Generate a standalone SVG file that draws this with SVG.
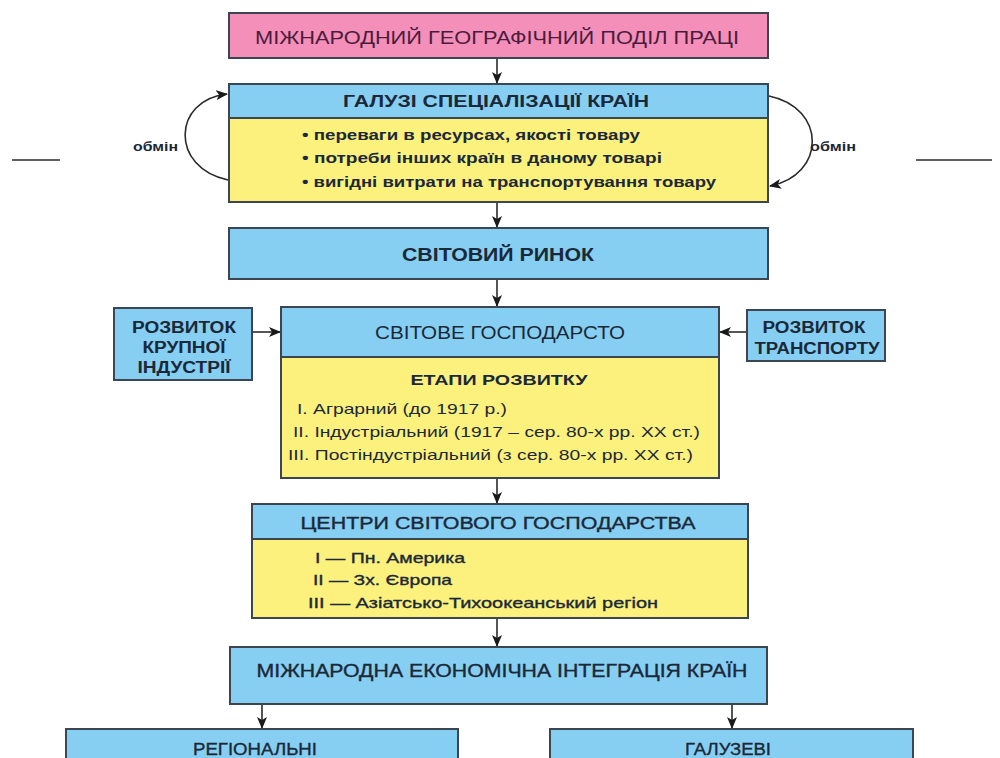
<svg xmlns="http://www.w3.org/2000/svg" width="1000" height="758" viewBox="0 0 1000 758">
<defs>
<marker id="ah" viewBox="0 0 12 10" refX="11" refY="5" markerWidth="12" markerHeight="10" markerUnits="userSpaceOnUse" orient="auto">
<path d="M0,0 L12,5 L0,10 L3,5 Z" fill="#1a1a1a"/>
</marker>
<style>
.box{stroke:#3b4650;stroke-width:2}
.pink{fill:#f48fba}
.blue{fill:#86cff2}
.yel{fill:#fbf17c}
.t{font-family:"Liberation Sans",Arial,sans-serif;fill:#1b2838}
.c{text-anchor:middle}
.b{font-weight:bold}
.m{stroke:#1b2838;stroke-width:0.35}
.ln{fill:none;stroke:#2a2a2a;stroke-width:1.6}
</style>
</defs>
<rect width="1000" height="758" fill="#ffffff"/>

<g id="connectors">
<line class="ln" x1="497" y1="59" x2="497" y2="83" marker-end="url(#ah)"/>
<line class="ln" x1="497" y1="203" x2="497" y2="227" marker-end="url(#ah)"/>
<line class="ln" x1="497" y1="280" x2="497" y2="306" marker-end="url(#ah)"/>
<line class="ln" x1="497" y1="478" x2="497" y2="503" marker-end="url(#ah)"/>
<line class="ln" x1="497" y1="619" x2="497" y2="646" marker-end="url(#ah)"/>
<line class="ln" x1="262" y1="705" x2="262" y2="728" marker-end="url(#ah)"/>
<line class="ln" x1="732" y1="705" x2="732" y2="728" marker-end="url(#ah)"/>
<line class="ln" x1="252" y1="332" x2="280" y2="332" marker-end="url(#ah)"/>
<line class="ln" x1="747" y1="332" x2="720" y2="332" marker-end="url(#ah)"/>
<path class="ln" d="M228,180 C170,168 172,100 227,94" marker-end="url(#ah)"/>
<path class="ln" d="M769,96 C827,108 826,175 770,186" marker-end="url(#ah)"/>
<line x1="12" y1="160" x2="60" y2="160" stroke="#2a2a2a" stroke-width="1.6"/>
<line x1="916" y1="160" x2="992" y2="160" stroke="#2a2a2a" stroke-width="1.6"/>
</g>

<g id="n-podil">
<rect class="box pink" x="229" y="13" width="539" height="45"/>
<text class="t c" x="497" y="44" font-size="19" style="fill:#4a1c3c" textLength="484" lengthAdjust="spacingAndGlyphs">МІЖНАРОДНИЙ ГЕОГРАФІЧНИЙ ПОДІЛ ПРАЦІ</text>
</g>

<g id="n-galuzi">
<rect class="box blue" x="229" y="84" width="539" height="34"/>
<rect class="box yel" x="229" y="118" width="539" height="84"/>
<text class="t c b" x="496" y="107" font-size="17" textLength="306" lengthAdjust="spacingAndGlyphs">ГАЛУЗІ СПЕЦІАЛІЗАЦІЇ КРАЇН</text>
<text class="t b" x="302" y="140" font-size="15" textLength="338" lengthAdjust="spacingAndGlyphs">• переваги в ресурсах, якості товару</text>
<text class="t b" x="302" y="163" font-size="15" textLength="360" lengthAdjust="spacingAndGlyphs">• потреби інших країн в даному товарі</text>
<text class="t b" x="302" y="187" font-size="15" textLength="414" lengthAdjust="spacingAndGlyphs">• вигідні витрати на транспортування товару</text>
</g>

<g id="lbl-obmin">
<text class="t b" x="133" y="151" font-size="13" textLength="45" lengthAdjust="spacingAndGlyphs">обмін</text>
<text class="t b" x="810" y="151" font-size="13" textLength="46" lengthAdjust="spacingAndGlyphs">обмін</text>
</g>

<g id="n-rynok">
<rect class="box blue" x="229" y="228" width="539" height="51"/>
<text class="t c b" x="498" y="261" font-size="18" textLength="192" lengthAdjust="spacingAndGlyphs">СВІТОВИЙ РИНОК</text>
</g>

<g id="n-industry">
<rect class="box blue" x="114" y="308" width="138" height="72"/>
<text class="t c b" x="184" y="333" font-size="16" textLength="104" lengthAdjust="spacingAndGlyphs">РОЗВИТОК</text>
<text class="t c b" x="184" y="353" font-size="16" textLength="83" lengthAdjust="spacingAndGlyphs">КРУПНОЇ</text>
<text class="t c b" x="184" y="373" font-size="16" textLength="93" lengthAdjust="spacingAndGlyphs">ІНДУСТРІЇ</text>
</g>

<g id="n-transport">
<rect class="box blue" x="747" y="310" width="138" height="51"/>
<text class="t c b" x="814" y="333" font-size="16" textLength="103" lengthAdjust="spacingAndGlyphs">РОЗВИТОК</text>
<text class="t c b" x="817" y="354" font-size="16" textLength="125" lengthAdjust="spacingAndGlyphs">ТРАНСПОРТУ</text>
</g>

<g id="n-gospodarstvo">
<rect class="box blue" x="281" y="307" width="438" height="50"/>
<rect class="box yel" x="281" y="357" width="438" height="121"/>
<text class="t c" x="500" y="339" font-size="18" textLength="250" lengthAdjust="spacingAndGlyphs">СВІТОВЕ ГОСПОДАРСТО</text>
<text class="t c b" x="499" y="385" font-size="15" textLength="177" lengthAdjust="spacingAndGlyphs">ЕТАПИ РОЗВИТКУ</text>
<text class="t" x="297" y="414" font-size="15" textLength="210" lengthAdjust="spacingAndGlyphs">I. Аграрний (до 1917 р.)</text>
<text class="t" x="293" y="437" font-size="15" textLength="407" lengthAdjust="spacingAndGlyphs">II. Індустріальний (1917 – сер. 80-х рр. XX ст.)</text>
<text class="t" x="288" y="460" font-size="15" textLength="405" lengthAdjust="spacingAndGlyphs">III. Постіндустріальний (з сер. 80-х рр. XX ст.)</text>
</g>

<g id="n-tsentry">
<rect class="box blue" x="252" y="504" width="496" height="35"/>
<rect class="box yel" x="252" y="539" width="496" height="79"/>
<text class="t c m" x="498" y="529" font-size="17" textLength="395" lengthAdjust="spacingAndGlyphs">ЦЕНТРИ СВІТОВОГО ГОСПОДАРСТВА</text>
<text class="t m" x="315" y="563" font-size="15" textLength="150" lengthAdjust="spacingAndGlyphs">I — Пн. Америка</text>
<text class="t m" x="313" y="585" font-size="15" textLength="139" lengthAdjust="spacingAndGlyphs">II — Зх. Європа</text>
<text class="t m" x="308" y="608" font-size="15" textLength="350" lengthAdjust="spacingAndGlyphs">III — Азіатсько-Тихоокеанський регіон</text>
</g>

<g id="n-integratsiya">
<rect class="box blue" x="230" y="647" width="537" height="57"/>
<text class="t c m" x="502" y="677" font-size="18" textLength="491" lengthAdjust="spacingAndGlyphs">МІЖНАРОДНА ЕКОНОМІЧНА ІНТЕГРАЦІЯ КРАЇН</text>
</g>

<g id="n-regionalni">
<rect class="box blue" x="66" y="729" width="392" height="40"/>
<text class="t c m" x="255" y="755" font-size="17" textLength="124" lengthAdjust="spacingAndGlyphs">РЕГІОНАЛЬНІ</text>
</g>

<g id="n-galuzevi">
<rect class="box blue" x="550" y="729" width="363" height="40"/>
<text class="t c m" x="728" y="755" font-size="17" textLength="86" lengthAdjust="spacingAndGlyphs">ГАЛУЗЕВІ</text>
</g>
</svg>
